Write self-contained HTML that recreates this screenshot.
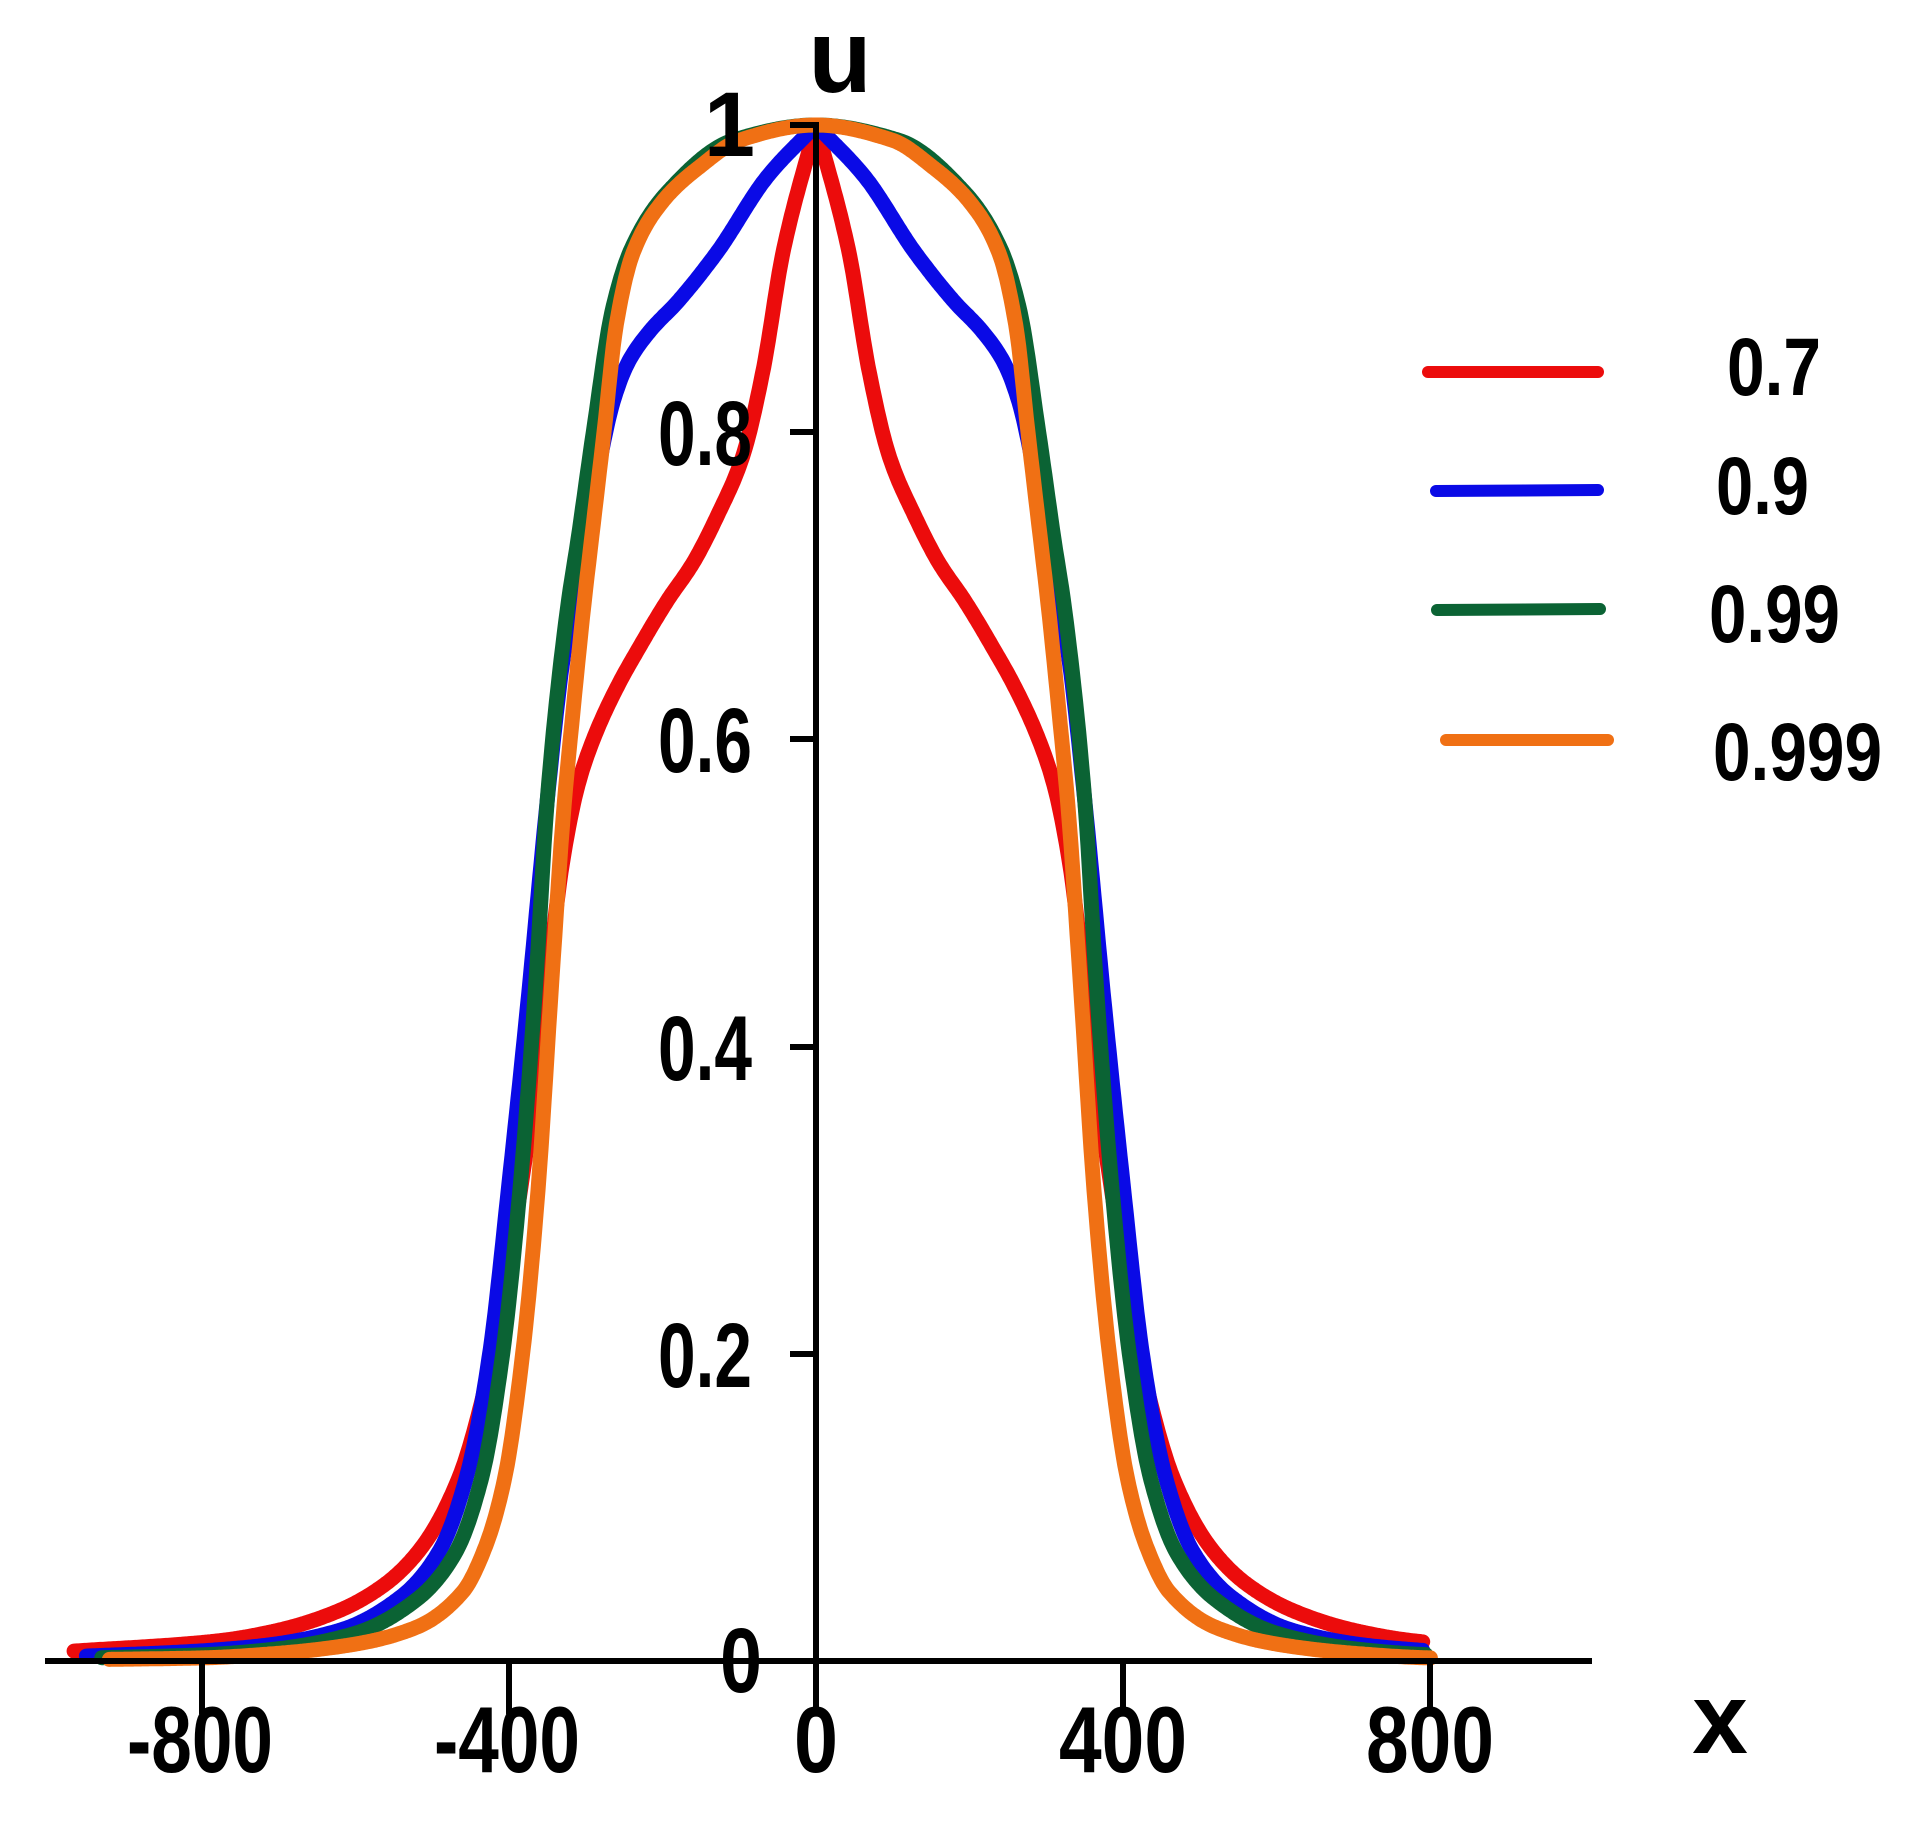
<!DOCTYPE html>
<html><head><meta charset="utf-8"><style>
html,body{margin:0;padding:0;background:#fff;}
svg{display:block;}
text{font-family:"Liberation Sans",Arial,sans-serif;font-weight:bold;fill:#000;}
</style></head><body>
<svg id="s" width="1917" height="1848" viewBox="0 0 1917 1848" xmlns="http://www.w3.org/2000/svg">
<g id="curves" fill="none" stroke-width="15" stroke-linecap="round" stroke-linejoin="round"></g>
<g stroke="#000" stroke-width="6">
<line x1="45" y1="1661" x2="1592" y2="1661"/>
<line x1="816" y1="122" x2="816" y2="1714"/>
<line x1="202" y1="1661" x2="202" y2="1714"/>
<line x1="509" y1="1661" x2="509" y2="1714"/>
<line x1="1123" y1="1661" x2="1123" y2="1714"/>
<line x1="1430" y1="1661" x2="1430" y2="1714"/>
<line x1="790" y1="125" x2="816" y2="125"/>
<line x1="790" y1="432" x2="816" y2="432"/>
<line x1="790" y1="739" x2="816" y2="739"/>
<line x1="790" y1="1047" x2="816" y2="1047"/>
<line x1="790" y1="1354" x2="816" y2="1354"/>
<line x1="790" y1="1661" x2="816" y2="1661"/>
</g>
<g font-size="94" text-anchor="middle">
<text x="200" y="1772" textLength="146" lengthAdjust="spacingAndGlyphs">-800</text>
<text x="507" y="1772" textLength="146" lengthAdjust="spacingAndGlyphs">-400</text>
<text x="816" y="1772" textLength="44" lengthAdjust="spacingAndGlyphs">0</text>
<text x="1123" y="1772" textLength="128" lengthAdjust="spacingAndGlyphs">400</text>
<text x="1430" y="1772" textLength="128" lengthAdjust="spacingAndGlyphs">800</text>
</g>
<g font-size="92" text-anchor="end">
<text x="755" y="156">1</text>
<text x="752" y="465" textLength="94" lengthAdjust="spacingAndGlyphs">0.8</text>
<text x="752" y="772" textLength="94" lengthAdjust="spacingAndGlyphs">0.6</text>
<text x="752" y="1080" textLength="94" lengthAdjust="spacingAndGlyphs">0.4</text>
<text x="752" y="1387" textLength="94" lengthAdjust="spacingAndGlyphs">0.2</text>
<text x="762" y="1692" textLength="42" lengthAdjust="spacingAndGlyphs">0</text>
</g>
<text x="840" y="92" font-size="104" text-anchor="middle">u</text>
<text x="1720" y="1753" font-size="100" text-anchor="middle">x</text>
<g stroke-width="12" stroke-linecap="round">
<line x1="1428" y1="372" x2="1598" y2="372" stroke="#ec0c0c"/>
<line x1="1436" y1="491" x2="1598" y2="490" stroke="#0a0ae6"/>
<line x1="1437" y1="610" x2="1600" y2="609" stroke="#0b6334"/>
<line x1="1446" y1="740" x2="1608" y2="740" stroke="#f07014"/>
</g>
<g font-size="82">
<text x="1727" y="395" textLength="94" lengthAdjust="spacingAndGlyphs">0.7</text>
<text x="1716" y="514" textLength="93" lengthAdjust="spacingAndGlyphs">0.9</text>
<text x="1709" y="642" textLength="131" lengthAdjust="spacingAndGlyphs">0.99</text>
<text x="1713" y="780" textLength="169" lengthAdjust="spacingAndGlyphs">0.999</text>
</g>
</svg>
<script>
var X0=816,SX=0.768,Y0=1661,SY=1536;
var curves=[
 {c:"#ec0c0c",a:-966,b:790,flat:false,L:[[0,1],[43,.917],[69,.84],[95,.785],[129,.745],[160,.715],[194,.69],[230,.66],[259,.634],[290,.6],[310,.57],[330,.52],[350,.44],[375,.34],[400,.26],[430,.18],[466,.118],[515,.073],[561,.05],[620,.033],[700,.02],[780,.013],[980,.006]]},
 {c:"#0a0ae6",a:-950,b:790,flat:false,L:[[0,1],[64,.966],[129,.917],[180,.885],[216,.866],[245,.845],[264,.82],[290,.76],[310,.71],[330,.65],[350,.56],[375,.43],[400,.31],[425,.2],[455,.12],[490,.072],[540,.042],[620,.02],[720,.01],[820,.006],[960,.003]]},
 {c:"#0b6334",a:-930,b:795,flat:true,L:[[0,1],[108,.99],[194,.956],[240,.92],[265,.88],[290,.8],[310,.73],[324,.684],[350,.56],[365,.44],[385,.31],[408,.2],[435,.12],[470,.07],[520,.04],[600,.018],[700,.008],[800,.004],[940,.002]]},
 {c:"#f07014",a:-920,b:800,flat:true,L:[[0,1],[100,.99],[151,.973],[200,.95],[238,.917],[260,.87],[276,.8],[290,.74],[303,.684],[316,.62],[329,.551],[343,.45],[363,.3],[382,.2],[405,.12],[430,.075],[460,.045],[520,.022],[600,.011],[700,.005],[800,.002],[930,.001]]}
];
function mono(L,flat){var n=L.length,d=[],m=[];for(var i=0;i<n-1;i++)d.push((L[i+1][1]-L[i][1])/(L[i+1][0]-L[i][0]));
m[0]=flat?0:d[0];for(i=1;i<n-1;i++){if(d[i-1]*d[i]<=0)m[i]=0;else{var h0=L[i][0]-L[i-1][0],h1=L[i+1][0]-L[i][0];var w1=2*h1+h0,w2=h1+2*h0;m[i]=(w1+w2)/(w1/d[i-1]+w2/d[i]);}}m[n-1]=d[n-2];
return function(x){x=Math.abs(x);for(var i=0;i<n-1;i++){if(x<=L[i+1][0]){var h=L[i+1][0]-L[i][0],t=(x-L[i][0])/h,t2=t*t,t3=t2*t;
return (2*t3-3*t2+1)*L[i][1]+(t3-2*t2+t)*h*m[i]+(-2*t3+3*t2)*L[i+1][1]+(t3-t2)*h*m[i+1];}}return L[n-1][1];};}
var g=document.getElementById("curves");
curves.forEach(function(k){var f=mono(k.L,k.flat);var d="";for(var x=k.a;x<=k.b;x+=2){var px=X0+x*SX,py=Y0-f(x)*SY;d+=(d?"L":"M")+px.toFixed(1)+" "+py.toFixed(1);}
var p=document.createElementNS("http://www.w3.org/2000/svg","path");p.setAttribute("d",d);p.setAttribute("stroke",k.c);g.appendChild(p);});
</script>
</body></html>
